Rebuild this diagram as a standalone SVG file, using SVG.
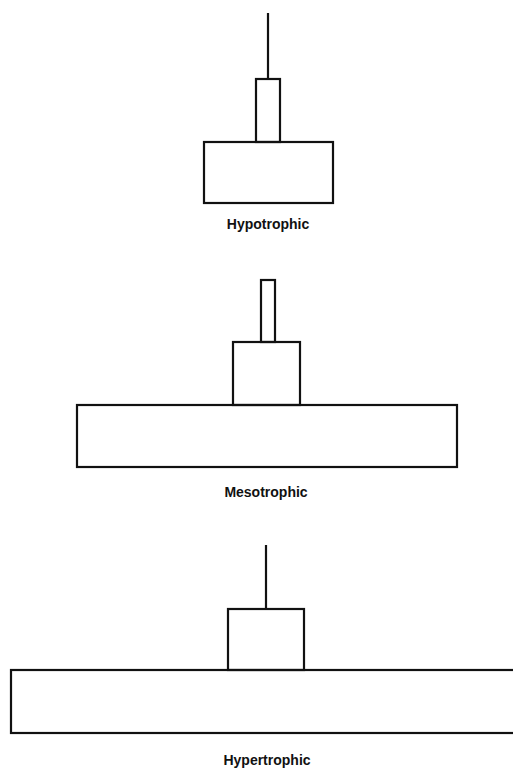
<svg xmlns="http://www.w3.org/2000/svg" width="513" height="772" viewBox="0 0 513 772">
<style>
.s{fill:none;stroke:#111;stroke-width:2.2}
.t{font-family:"Liberation Sans",Arial,sans-serif;font-weight:bold;font-size:14px;fill:#111;text-anchor:middle}
</style>
<rect width="513" height="772" fill="#fff"/>
<g id="hypotrophic">
<line class="s" x1="268" y1="13" x2="268" y2="79"/>
<rect class="s" x="256" y="79" width="24" height="63"/>
<rect class="s" x="204" y="142" width="129" height="61"/>
<text class="t" x="268" y="229">Hypotrophic</text>
</g>
<g id="mesotrophic">
<rect class="s" x="261" y="280" width="14" height="62"/>
<rect class="s" x="233" y="342" width="67" height="63"/>
<rect class="s" x="77" y="405" width="380" height="62"/>
<text class="t" x="266" y="497">Mesotrophic</text>
</g>
<g id="hypertrophic">
<line class="s" x1="266" y1="545" x2="266" y2="609"/>
<rect class="s" x="228" y="609" width="76" height="61"/>
<rect class="s" x="11" y="670" width="520" height="63"/>
<text class="t" x="267" y="765">Hypertrophic</text>
</g>
<g id="connectors"></g>
</svg>
